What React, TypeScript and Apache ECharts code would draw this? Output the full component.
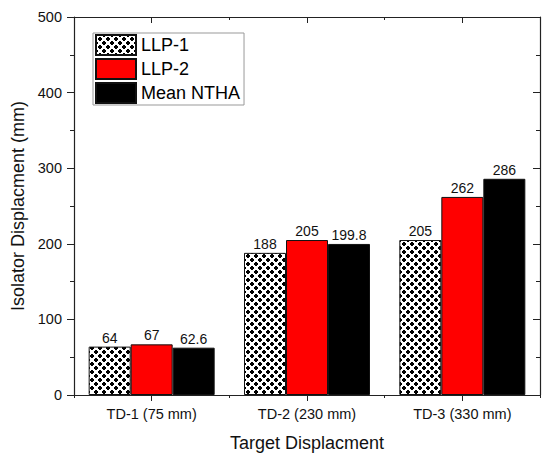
import React, { useEffect, useRef } from "react";
import * as echarts from "echarts";

const categories = ["TD-1 (75 mm)", "TD-2 (230 mm)", "TD-3 (330 mm)"];
const llp1 = [64, 188, 205];
const llp2 = [67, 205, 262];
const meanNTHA = [62.6, 199.8, 286];
const seriesNames = ["LLP-1", "LLP-2", "Mean NTHA"];
const yTicks = [0, 100, 200, 300, 400, 500];

const FONT = "'Liberation Sans', Arial, sans-serif";

function makePattern(): HTMLCanvasElement {
  const s = 8;
  const c = document.createElement("canvas");
  c.width = s;
  c.height = s;
  const ctx = c.getContext("2d")!;
  ctx.fillStyle = "#fff";
  ctx.fillRect(0, 0, s, s);
  ctx.fillStyle = "#000";
  const centers = [
    [0, 0], [s, 0], [0, s], [s, s], [s / 2, s / 2],
  ];
  for (let y = 0; y < s; y++) {
    for (let x = 0; x < s; x++) {
      const px = x + 0.5;
      const py = y + 0.5;
      let d = Infinity;
      for (const [cx, cy] of centers) {
        d = Math.min(d, Math.abs(px - cx) + Math.abs(py - cy));
      }
      if (d < 3.0) ctx.fillRect(x, y, 1, 1);
    }
  }
  return c;
}

export default function App() {
  const ref = useRef<HTMLDivElement>(null);
  useEffect(() => {
    if (!ref.current) return;
    const chart = echarts.init(ref.current, null, { renderer: "svg" });
    const pat = makePattern();
    const patternColor: any = { image: pat.toDataURL(), repeat: "repeat" };
    const axisLine = { show: true, lineStyle: { color: "#222", width: 1.2 } };
    const label = {
      show: true,
      position: "top",
      distance: 2,
      fontFamily: FONT,
      fontSize: 14,
      color: "#111",
    };
    const mkSeries = (name: string, data: number[], color: any) => ({
      name,
      type: "bar",
      data,
      xAxisIndex: 0,
      yAxisIndex: 0,
      barWidth: 42,
      barGap: "0%",
      itemStyle: { color, borderColor: "#111", borderWidth: 1 },
      label,
    });
    chart.setOption({
      animation: false,
      backgroundColor: "#fff",
      grid: { left: 74, right: 3, top: 17, bottom: 61 },
      legend: {
        orient: "vertical",
        left: 93,
        top: 33,
        itemWidth: 40,
        itemHeight: 20,
        itemGap: 2,
        icon: "rect",
        padding: [1, 4, 1, 2],
        borderColor: "#999",
        borderWidth: 1,
        textStyle: { fontFamily: FONT, fontSize: 18, color: "#000" },
        data: seriesNames,
      },
      xAxis: [
        {
          type: "category",
          data: categories,
          position: "bottom",
          axisLine,
          axisTick: { show: true, alignWithLabel: true, length: 6, lineStyle: { color: "#222" } },
          axisLabel: { fontFamily: FONT, fontSize: 14.5, color: "#111", margin: 11 },
          name: "Target Displacment",
          nameLocation: "middle",
          nameGap: 39,
          nameTextStyle: { fontFamily: FONT, fontSize: 18, color: "#111" },
        },
        {
          type: "category",
          data: categories,
          position: "bottom",
          axisLine: { show: false },
          axisTick: { show: true, length: 3, lineStyle: { color: "#222" } },
          axisLabel: { show: false },
        },
        {
          type: "category",
          data: categories,
          position: "top",
          axisLine,
          axisTick: { show: true, alignWithLabel: true, inside: true, length: 6, lineStyle: { color: "#222" } },
          axisLabel: { show: false },
        },
        {
          type: "category",
          data: categories,
          position: "top",
          axisLine: { show: false },
          axisTick: { show: true, inside: true, length: 3, lineStyle: { color: "#222" } },
          axisLabel: { show: false },
        },
      ],
      yAxis: [
        {
          type: "value",
          position: "left",
          min: yTicks[0],
          max: yTicks[yTicks.length - 1],
          interval: 100,
          axisLine,
          axisTick: { show: true, length: 7, lineStyle: { color: "#222" } },
          minorTick: { show: true, splitNumber: 2, length: 4, lineStyle: { color: "#222" } },
          splitLine: { show: false },
          axisLabel: { fontFamily: FONT, fontSize: 14.5, color: "#111", margin: 12 },
          name: "Isolator Displacment (mm)",
          nameLocation: "middle",
          nameGap: 46,
          nameTextStyle: { fontFamily: FONT, fontSize: 18, color: "#111" },
        },
        {
          type: "value",
          position: "right",
          min: yTicks[0],
          max: yTicks[yTicks.length - 1],
          interval: 100,
          axisLine,
          axisTick: { show: true, inside: true, length: 7, lineStyle: { color: "#222" } },
          minorTick: { show: true, splitNumber: 2, length: 4, lineStyle: { color: "#222" } },
          splitLine: { show: false },
          axisLabel: { show: false },
        },
      ],
      series: [
        mkSeries(seriesNames[0], llp1, patternColor),
        mkSeries(seriesNames[1], llp2, "#ff0000"),
        mkSeries(seriesNames[2], meanNTHA, "#000000"),
      ],
    });
    return () => chart.dispose();
  }, []);
  return <div ref={ref} style={{ width: 543, height: 457, position: "absolute", left: 0, top: 0 }} />;
}
